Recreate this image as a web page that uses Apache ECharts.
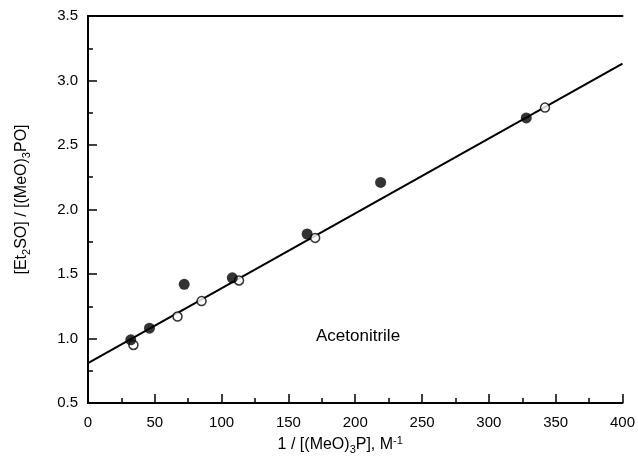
<!DOCTYPE html>
<html>
<head>
<meta charset="utf-8">
<script src="https://cdn.jsdelivr.net/npm/echarts@6/dist/echarts.min.js"></script>
<style>
  html, body { margin: 0; padding: 0; background: #fff; }
  #chart { width: 638px; height: 467px; }
</style>
</head>
<body>
<div id="chart"></div>
<script>
// filled circles
const filledX = [32, 46, 72, 108, 164, 219, 328];
const filledY = [0.99, 1.08, 1.42, 1.47, 1.81, 2.21, 2.71];
// open circles
const openX = [34, 67, 85, 113, 170, 342];
const openY = [0.95, 1.17, 1.29, 1.45, 1.78, 2.79];
// fitted line ends
const fitX = [0, 400];
const fitY = [0.81, 3.13];

const xTicks = [0, 50, 100, 150, 200, 250, 300, 350, 400];
const yTicks = [0.5, 1.0, 1.5, 2.0, 2.5, 3.0, 3.5];

const font = '"Liberation Sans", Arial, sans-serif';
const ink = '#000';

const pair = (xs, ys) => xs.map((x, i) => [x, ys[i]]);

const chart = echarts.init(document.getElementById('chart'));

const axisCommon = {
  axisLine: { show: true, lineStyle: { color: ink, width: 2 } },
  splitLine: { show: false },
};

chart.setOption({
  backgroundColor: '#fff',
  animation: false,
  grid: { left: 88, right: 15, top: 16, bottom: 64 },
  xAxis: [
    {
      ...axisCommon,
      type: 'value',
      min: xTicks[0],
      max: xTicks[xTicks.length - 1],
      interval: 50,
      axisTick: { show: true, inside: true, length: 9, lineStyle: { color: ink, width: 1.5 } },
      minorTick: { show: true, splitNumber: 2, length: 5, lineStyle: { color: ink, width: 1.5 } },
      axisLabel: { color: ink, fontFamily: font, fontSize: 15, margin: 12 },
      name: '{a|1 / [(MeO)}{s|3}{a|P], M}{u|-1}',
      nameLocation: 'middle',
      nameGap: 32,
      nameTextStyle: {
        padding: [0, 30, 0, 0],
        rich: {
          a: { fontFamily: font, fontSize: 16, color: ink },
          s: { fontFamily: font, fontSize: 11, color: ink, padding: [9, 0, 0, 0] },
          u: { fontFamily: font, fontSize: 11, color: ink, padding: [0, 0, 9, 0] },
        },
      },
    },
    {
      ...axisCommon,
      type: 'value',
      position: 'top',
      min: 0, max: 400,
      axisTick: { show: false },
      axisLabel: { show: false },
    },
  ],
  yAxis: [
    {
      ...axisCommon,
      type: 'value',
      min: yTicks[0],
      max: yTicks[yTicks.length - 1],
      interval: 0.5,
      axisTick: { show: true, inside: true, length: 9, lineStyle: { color: ink, width: 1.5 } },
      minorTick: { show: true, splitNumber: 2, length: 5, lineStyle: { color: ink, width: 1.5 } },
      axisLabel: {
        color: ink, fontFamily: font, fontSize: 15, margin: 10,
        formatter: v => v.toFixed(1),
      },
      name: '{a|[Et}{s|2}{a|SO] / [(MeO)}{s|3}{a|PO]}',
      nameLocation: 'middle',
      nameRotate: 90,
      nameGap: 56,
      nameTextStyle: {
        padding: [0, 0, 0, 20],
        rich: {
          a: { fontFamily: font, fontSize: 16, color: ink },
          s: { fontFamily: font, fontSize: 11, color: ink, padding: [9, 0, 0, 0] },
        },
      },
    },
    {
      ...axisCommon,
      type: 'value',
      position: 'right',
      min: 0.5, max: 3.5,
      axisTick: { show: false },
      axisLabel: { show: false },
    },
  ],
  series: [
    {
      type: 'line',
      data: pair(fitX, fitY),
      showSymbol: false,
      lineStyle: { color: ink, width: 2 },
      silent: true,
      z: 2,
    },
    {
      type: 'scatter',
      data: pair(openX, openY),
      symbol: 'circle',
      symbolSize: 9,
      itemStyle: { color: '#fff', borderColor: ink, borderWidth: 1.5 },
      z: 3,
    },
    {
      type: 'scatter',
      data: pair(filledX, filledY),
      symbol: 'circle',
      symbolSize: 11,
      itemStyle: { color: ink },
      z: 4,
    },
  ],
  graphic: [
    {
      type: 'text',
      left: 316,
      top: 328,
      style: { text: 'Acetonitrile', font: '17px ' + font, fill: ink },
    },
  ],
});
</script>
</body>
</html>
